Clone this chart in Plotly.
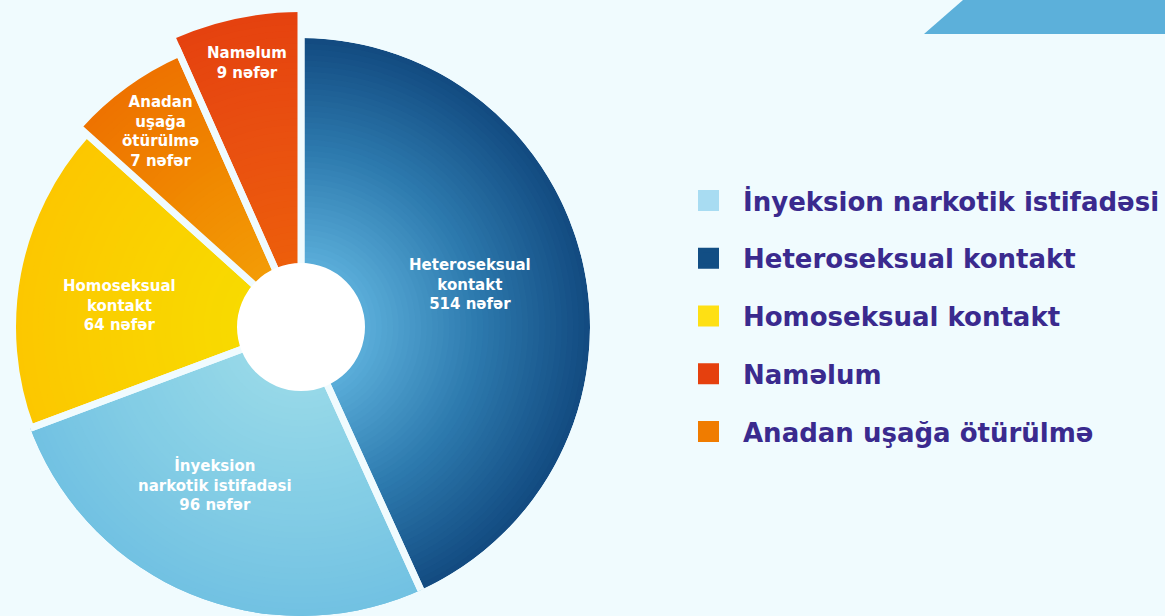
import math
import plotly.graph_objects as go

# slices in drawing order, clockwise from 12 o'clock
categories = ["Heteroseksual kontakt", "İnyeksion narkotik istifadəsi",
              "Homoseksual kontakt", "Anadan uşağa ötürülmə", "Naməlum"]
slice_text = ["Heteroseksual<br>kontakt", "İnyeksion<br>narkotik istifadəsi",
              "Homoseksual<br>kontakt", "Anadan<br>uşağa<br>ötürülmə", "Naməlum"]
persons = [514, 96, 64, 7, 9]
# the infographic is not drawn to scale: arc (deg) and reach (px)
slice_arc = [155.5, 94.0, 62.5, 24.0, 24.0]
slice_reach = [289, 300, 285, 296, 315]
legend_order = ["İnyeksion narkotik istifadəsi", "Heteroseksual kontakt",
                "Homoseksual kontakt", "Naməlum", "Anadan uşağa ötürülmə"]

# ---- style ----
W, H = 1165, 616
CX, CY = 301, 327          # pie centre in px
HOLE = 64
GAP = 7
BG = "#F0FBFE"
R_MAIN, R_TOP = 289, 320
N_RING = 40

shades = {  # inner -> outer
    "Heteroseksual kontakt": ["#5AADD9", "#2D7AAE", "#124A80"],
    "İnyeksion narkotik istifadəsi": ["#96D8E8", "#83CDE5", "#70C0E2"],
    "Homoseksual kontakt": ["#F8DA00", "#FAD100", "#FCC700"],
    "Anadan uşağa ötürülmə": ["#F39C06", "#F08700", "#EE7200"],
    "Naməlum": ["#ED5E0B", "#E95010", "#E5420F"],
}
legend_colors = {
    "İnyeksion narkotik istifadəsi": "#A8DCF2",
    "Heteroseksual kontakt": "#124E84",
    "Homoseksual kontakt": "#FEE014",
    "Naməlum": "#E5400E",
    "Anadan uşağa ötürülmə": "#F07C00",
}
# the two tall upper slices live in a second, sector-cropped polar
subplot_of = {"Anadan uşağa ötürülmə": "polar2", "Naməlum": "polar2"}
label_at = [(75.7, 174), (208.6, 180), (276.9, 183), (324.3, 241), (348.5, 269)]


def mix(stops, t):
    t = min(max(t, 0.0), 1.0) * (len(stops) - 1)
    k = min(int(t), len(stops) - 2)
    f = t - k
    a = [int(stops[k][j:j + 2], 16) for j in (1, 3, 5)]
    b = [int(stops[k + 1][j:j + 2], 16) for j in (1, 3, 5)]
    return "rgb(%d,%d,%d)" % tuple(round(x + (y - x) * f) for x, y in zip(a, b))


def polar_layout(R, sector):
    s0, s1 = sector
    angs = [s0, s1] + [q for q in range(0, 361, 90) if s0 <= q <= s1]
    pts = [(0.0, 0.0)] + [(math.cos(math.radians(a)), math.sin(math.radians(a))) for a in angs]
    xs, ys = zip(*pts)
    return dict(
        domain=dict(x=[(CX + R * min(xs)) / W, (CX + R * max(xs)) / W],
                    y=[max(0.0, (H - CY + R * min(ys)) / H), (H - CY + R * max(ys)) / H]),
        sector=list(sector), hole=0, bgcolor="rgba(0,0,0,0)", barmode="overlay",
        radialaxis=dict(range=[0, R], visible=False),
        angularaxis=dict(rotation=90, direction="clockwise", visible=False),
    )


fig = go.Figure()

# legend entries
for cat in legend_order:
    c = legend_colors[cat]
    fig.add_trace(go.Scatterpolar(
        r=[None], theta=[None], mode="markers", name=cat, legendgroup=cat,
        marker=dict(symbol="square", size=16, color=c, line=dict(color=c, width=5)),
        hoverinfo="skip"))

mids = []
start = 0
for arc in slice_arc:
    mids.append(start + arc / 2)
    start += arc

# slices: stacked wedges, outer first, for a radial gradient
# (they start just inside the hole so nothing meets at the very centre)
ring_base = HOLE - 6
for cat, mid, arc, reach in zip(categories, mids, slice_arc, slice_reach):
    step = (reach - HOLE) / N_RING
    rs = [reach - k * step for k in range(N_RING)]
    cols = [mix(shades[cat], (r - step / 2 - HOLE) / (reach - HOLE)) for r in rs]
    fig.add_trace(go.Barpolar(
        r=[r - ring_base for r in rs], base=ring_base,
        theta=[mid] * N_RING, width=[arc] * N_RING,
        marker=dict(color=cols, line=dict(width=0)),
        subplot=subplot_of.get(cat, "polar"), showlegend=False, hoverinfo="skip"))

# gaps between slices (outlines start inside the hole) and the white hole
gap_base = HOLE - 10
for sub in ("polar", "polar2"):
    idx = [i for i, c in enumerate(categories) if subplot_of.get(c, "polar") == sub]
    fig.add_trace(go.Barpolar(
        r=[slice_reach[i] + GAP - gap_base for i in idx], base=gap_base,
        theta=[mids[i] for i in idx], width=[slice_arc[i] for i in idx],
        marker=dict(color="rgba(0,0,0,0)", line=dict(color=BG, width=GAP)),
        subplot=sub, showlegend=False, hoverinfo="skip"))
    fig.add_trace(go.Barpolar(
        r=[HOLE], theta=[0], width=[360], marker=dict(color="white", line=dict(width=0)),
        subplot=sub, showlegend=False, hoverinfo="skip"))

annotations = []
for (ang, dist), txt, n in zip(label_at, slice_text, persons):
    x = CX + dist * math.sin(math.radians(ang))
    y = CY - dist * math.cos(math.radians(ang))
    annotations.append(dict(
        x=x / W, y=1 - y / H, xref="paper", yref="paper", showarrow=False,
        text=f"{txt}<br>{n} nəfər", align="center", xanchor="center", yanchor="middle",
        font=dict(family="DejaVu Sans", size=15, color="white", weight="bold")))

fig.update_layout(
    width=W, height=H, autosize=False,
    margin=dict(l=0, r=0, t=0, b=0, autoexpand=False),
    paper_bgcolor=BG, plot_bgcolor=BG,
    polar=polar_layout(R_MAIN, (0, 360)),
    polar2=polar_layout(R_TOP, (85, 145)),
    annotations=annotations,
    shapes=[dict(type="path", xref="paper", yref="paper", layer="below",
                 path=f"M {924 / W},{1 - 34 / H} L {963 / W},1 L 1,1 L 1,{1 - 34 / H} Z",
                 fillcolor="#5CB0DA", line=dict(width=0))],
    showlegend=True,
    legend=dict(x=674 / W, xanchor="left", y=1 - 177 / H, yanchor="top",
                traceorder="grouped", tracegroupgap=21, itemwidth=59,
                bgcolor="rgba(0,0,0,0)",
                font=dict(family="DejaVu Sans", size=26, color="#3A2A8E", weight="bold")),
)

fig.write_html("out.html", config={"displayModeBar": False},
               post_script="document.body.style.margin='0';document.body.style.background='" + BG + "';")
